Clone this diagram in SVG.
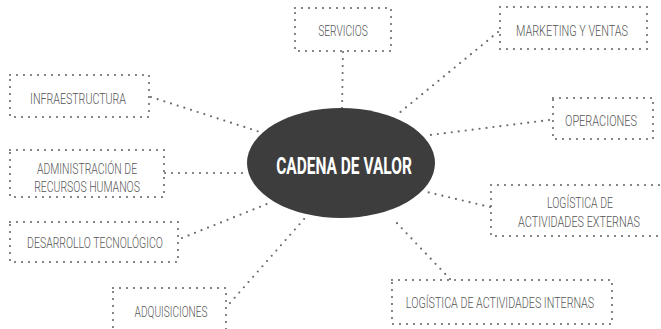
<svg xmlns="http://www.w3.org/2000/svg" width="661" height="329" viewBox="0 0 661 329">
<style>
.box{fill:none;stroke:#6b6b6b;stroke-width:2.2;stroke-linecap:round;stroke-dasharray:0 7}
.con{fill:none;stroke:#6b6b6b;stroke-width:2.2;stroke-linecap:round;stroke-dasharray:0 7}
.lbl{font-family:Roboto,"Liberation Sans",sans-serif;font-weight:300;font-size:15.5px;fill:#555;text-anchor:middle}
.hub{font-family:Roboto,"Liberation Sans",sans-serif;font-weight:700;font-size:23.5px;fill:#fff;text-anchor:middle}
</style>
<rect width="661" height="329" fill="#fff"/>
<g id="connectors">
<line class="con" x1="343" y1="52" x2="342" y2="108"/>
<line class="con" x1="498" y1="32" x2="398" y2="114"/>
<line class="con" x1="549" y1="120" x2="430" y2="135"/>
<line class="con" x1="151" y1="97" x2="260" y2="132"/>
<line class="con" x1="165" y1="173" x2="247" y2="173"/>
<line class="con" x1="182" y1="238" x2="272" y2="202"/>
<line class="con" x1="230" y1="303" x2="305" y2="218"/>
<line class="con" x1="450" y1="279" x2="393" y2="219"/>
<line class="con" x1="490" y1="207" x2="427" y2="192"/>
</g>
<g id="hub">
<ellipse cx="341" cy="163" rx="94" ry="55" fill="#3d3d3d"/>
<text class="hub" transform="translate(344 174) scale(0.75 1)" x="0" y="0" textLength="181" lengthAdjust="spacingAndGlyphs">CADENA DE VALOR</text>
</g>
<g id="servicios">
<rect class="box" x="295" y="8" width="96" height="43"/>
<text class="lbl" transform="translate(343 36) scale(0.7 1)" x="0" y="0" textLength="71" lengthAdjust="spacingAndGlyphs">SERVICIOS</text>
</g>
<g id="marketing">
<rect class="box" x="500" y="7" width="147" height="42"/>
<text class="lbl" transform="translate(572 36) scale(0.7 1)" x="0" y="0" textLength="160" lengthAdjust="spacingAndGlyphs">MARKETING Y VENTAS</text>
</g>
<g id="operaciones">
<rect class="box" x="553" y="98" width="100" height="41"/>
<text class="lbl" transform="translate(601 126) scale(0.7 1)" x="0" y="0" textLength="103" lengthAdjust="spacingAndGlyphs">OPERACIONES</text>
</g>
<g id="infraestructura">
<rect class="box" x="10" y="75" width="139" height="42"/>
<text class="lbl" transform="translate(78 104) scale(0.7 1)" x="0" y="0" textLength="137" lengthAdjust="spacingAndGlyphs">INFRAESTRUCTURA</text>
</g>
<g id="rrhh">
<rect class="box" x="10" y="150" width="154" height="47"/>
<text class="lbl" transform="translate(87 174) scale(0.7 1)" x="0" y="0" textLength="143" lengthAdjust="spacingAndGlyphs">ADMINISTRACIÓN DE</text>
<text class="lbl" transform="translate(87 192) scale(0.7 1)" x="0" y="0" textLength="151" lengthAdjust="spacingAndGlyphs">RECURSOS HUMANOS</text>
</g>
<g id="desarrollo">
<rect class="box" x="10" y="222" width="168" height="40"/>
<text class="lbl" transform="translate(95 248) scale(0.7 1)" x="0" y="0" textLength="194" lengthAdjust="spacingAndGlyphs">DESARROLLO TECNOLÓGICO</text>
</g>
<g id="adquisiciones">
<rect class="box" x="113" y="288" width="113" height="50"/>
<text class="lbl" transform="translate(171 317) scale(0.7 1)" x="0" y="0" textLength="104" lengthAdjust="spacingAndGlyphs">ADQUISICIONES</text>
</g>
<g id="internas">
<rect class="box" x="392" y="280" width="220" height="44"/>
<text class="lbl" transform="translate(500 308) scale(0.7 1)" x="0" y="0" textLength="269" lengthAdjust="spacingAndGlyphs">LOGÍSTICA DE ACTIVIDADES INTERNAS</text>
</g>
<g id="externas">
<rect class="box" x="491" y="185" width="180" height="51"/>
<text class="lbl" transform="translate(580 208) scale(0.7 1)" x="0" y="0" textLength="94" lengthAdjust="spacingAndGlyphs">LOGÍSTICA DE</text>
<text class="lbl" transform="translate(579 227) scale(0.7 1)" x="0" y="0" textLength="174" lengthAdjust="spacingAndGlyphs">ACTIVIDADES EXTERNAS</text>
</g>
</svg>
